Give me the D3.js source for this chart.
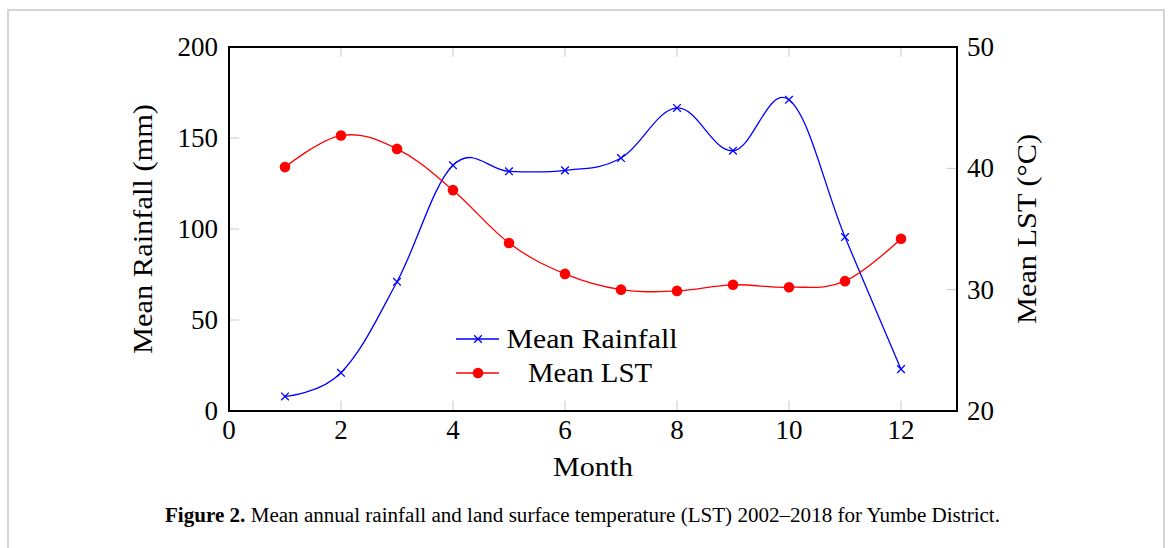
<!DOCTYPE html>
<html>
<head>
<meta charset="utf-8">
<script src="https://cdn.jsdelivr.net/npm/d3@7"></script>
<style>
  html, body { margin: 0; padding: 0; background: #fff; }
</style>
</head>
<body>
<svg id="chart" width="1170" height="548"></svg>
<script>
// values
const months = [1, 2, 3, 4, 5, 6, 7, 8, 9, 10, 11, 12];
const rainfall = [8, 21, 71, 135, 131.7, 132.2, 139, 166.5, 143, 171, 95.6, 23];
const lst = [40.1, 42.7, 41.6, 38.2, 33.85, 31.3, 30.0, 29.9, 30.4, 30.2, 30.7, 34.2];
const xTicks = [0, 2, 4, 6, 8, 10, 12];
const rainTicks = [0, 50, 100, 150, 200];
const lstTicks = [20, 30, 40, 50];
const seriesNames = ['Mean Rainfall', 'Mean LST'];

const FONT = 'Liberation Serif';
const svg = d3.select('#chart').attr('font-family', FONT);

// page frame
svg.append('rect')
  .attr('x', 8).attr('y', 10)
  .attr('width', 1156).attr('height', 560)
  .attr('fill', 'none')
  .attr('stroke', '#c8c8c8')
  .attr('stroke-width', 1.5);

const box = {left: 229, right: 957, top: 47, bottom: 411};

const x = d3.scaleLinear().domain([0, 13]).range([box.left, box.right]);
const yL = d3.scaleLinear().domain([0, 200]).range([box.bottom, box.top]);
const yR = d3.scaleLinear().domain([20, 50]).range([box.bottom, box.top]);

const tickColor = '#c8c8c8';
const tickLen = 10;

// tick marks (inside the box)
const g = svg.append('g');
g.selectAll('.xtb').data(xTicks).enter().append('line')
  .attr('x1', d => x(d)).attr('x2', d => x(d))
  .attr('y1', box.bottom).attr('y2', box.bottom - tickLen)
  .attr('stroke', tickColor);
g.selectAll('.xtt').data(xTicks).enter().append('line')
  .attr('x1', d => x(d)).attr('x2', d => x(d))
  .attr('y1', box.top).attr('y2', box.top + tickLen)
  .attr('stroke', tickColor);
g.selectAll('.ylt').data(rainTicks).enter().append('line')
  .attr('x1', box.left).attr('x2', box.left + tickLen)
  .attr('y1', d => yL(d)).attr('y2', d => yL(d))
  .attr('stroke', tickColor);
g.selectAll('.yrt').data(lstTicks).enter().append('line')
  .attr('x1', box.right).attr('x2', box.right - tickLen)
  .attr('y1', d => yR(d)).attr('y2', d => yR(d))
  .attr('stroke', tickColor);

// tick labels
const fs = 27;
g.selectAll('.xl').data(xTicks).enter().append('text')
  .attr('x', d => x(d)).attr('y', 439)
  .attr('text-anchor', 'middle')
  .attr('font-size', fs)
  .text(d => d);
g.selectAll('.yll').data(rainTicks).enter().append('text')
  .attr('x', 218).attr('y', d => yL(d) + 9)
  .attr('text-anchor', 'end')
  .attr('font-size', fs)
  .text(d => d);
g.selectAll('.yrl').data(lstTicks).enter().append('text')
  .attr('x', 967).attr('y', d => yR(d) + 9)
  .attr('text-anchor', 'start')
  .attr('font-size', fs)
  .text(d => d);

// axis titles
svg.append('text')
  .attr('x', 593).attr('y', 476)
  .attr('text-anchor', 'middle')
  .attr('textLength', 80)
  .attr('lengthAdjust', 'spacingAndGlyphs')
  .attr('font-size', fs)
  .text('Month');
svg.append('text')
  .attr('transform', 'translate(152, 229) rotate(-90)')
  .attr('text-anchor', 'middle')
  .attr('textLength', 250)
  .attr('lengthAdjust', 'spacingAndGlyphs')
  .attr('font-size', fs)
  .text('Mean Rainfall (mm)');
svg.append('text')
  .attr('transform', 'translate(1036, 229) rotate(-90)')
  .attr('text-anchor', 'middle')
  .attr('textLength', 190)
  .attr('lengthAdjust', 'spacingAndGlyphs')
  .attr('font-size', fs)
  .text('Mean LST (°C)');

// curves
const rainData = months.map((m, i) => ({m: m, v: rainfall[i]}));
const lstData = months.map((m, i) => ({m: m, v: lst[i]}));

const rainLine = d3.line()
  .x(d => x(d.m)).y(d => yL(d.v))
  .curve(d3.curveCardinal.tension(-0.1));
const lstLine = d3.line()
  .x(d => x(d.m)).y(d => yR(d.v))
  .curve(d3.curveCardinal.tension(-0.1));

svg.append('path').datum(rainData)
  .attr('d', rainLine)
  .attr('fill', 'none').attr('stroke', '#0000ff').attr('stroke-width', 1.3);
svg.append('path').datum(lstData)
  .attr('d', lstLine)
  .attr('fill', 'none').attr('stroke', '#ff0000').attr('stroke-width', 1.3);

const cross = d3.symbol().type(d3.symbolX).size(40);

svg.selectAll('.rm').data(rainData).enter().append('path')
  .attr('transform', d => `translate(${x(d.m)}, ${yL(d.v)})`)
  .attr('d', cross)
  .attr('fill', 'none').attr('stroke', '#0000ff').attr('stroke-width', 1.3);
svg.selectAll('.lm').data(lstData).enter().append('circle')
  .attr('cx', d => x(d.m)).attr('cy', d => yR(d.v))
  .attr('r', 5.3)
  .attr('fill', '#ff0000');

// legend
const legend = svg.append('g');
const legY = [339, 373];
legend.append('line')
  .attr('x1', 456).attr('x2', 499).attr('y1', legY[0]).attr('y2', legY[0])
  .attr('stroke', '#0000ff').attr('stroke-width', 1.3);
legend.append('path')
  .attr('transform', `translate(478, ${legY[0]})`)
  .attr('d', cross)
  .attr('fill', 'none').attr('stroke', '#0000ff').attr('stroke-width', 1.3);
legend.append('line')
  .attr('x1', 456).attr('x2', 499).attr('y1', legY[1]).attr('y2', legY[1])
  .attr('stroke', '#ff0000').attr('stroke-width', 1.3);
legend.append('circle')
  .attr('cx', 478).attr('cy', legY[1]).attr('r', 5.3)
  .attr('fill', '#ff0000');
legend.append('text')
  .attr('x', 592).attr('y', legY[0] + 9)
  .attr('text-anchor', 'middle')
  .attr('textLength', 171)
  .attr('lengthAdjust', 'spacingAndGlyphs')
  .attr('font-size', fs)
  .text(seriesNames[0]);
legend.append('text')
  .attr('x', 590).attr('y', legY[1] + 9)
  .attr('text-anchor', 'middle')
  .attr('textLength', 124)
  .attr('lengthAdjust', 'spacingAndGlyphs')
  .attr('font-size', fs)
  .text(seriesNames[1]);

// axis box
svg.append('rect')
  .attr('x', box.left).attr('y', box.top)
  .attr('width', box.right - box.left).attr('height', box.bottom - box.top)
  .attr('fill', 'none').attr('stroke', '#000').attr('stroke-width', 2);

// caption
const cap = svg.append('text')
  .attr('x', 165).attr('y', 522)
  .attr('textLength', 835)
  .attr('lengthAdjust', 'spacingAndGlyphs')
  .attr('font-size', 20);
cap.append('tspan').attr('font-weight', 'bold').text('Figure 2.');
cap.append('tspan').text(' Mean annual rainfall and land surface temperature (LST) 2002–2018 for Yumbe District.');
</script>
</body>
</html>
